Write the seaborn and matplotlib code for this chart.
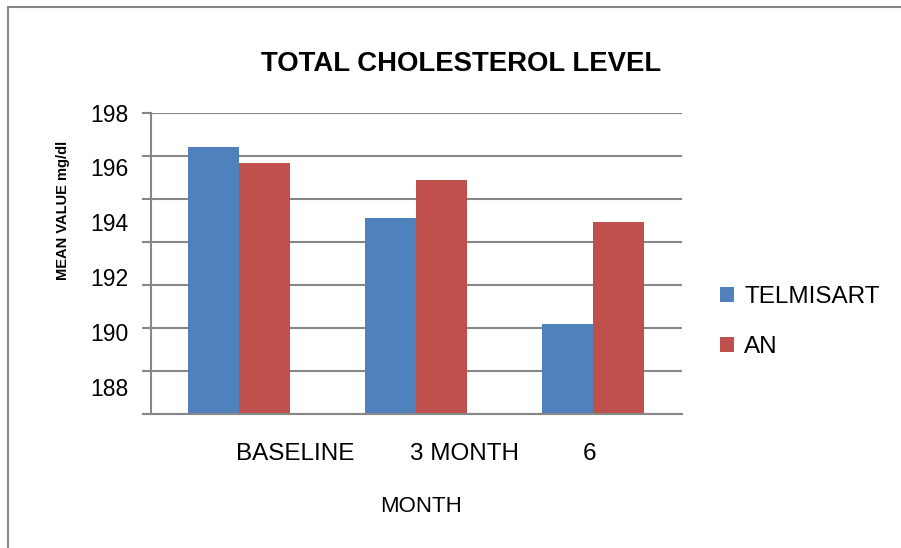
"""
Total cholesterol level by month, TELMISART vs AN (grouped bars).
"""

import matplotlib
matplotlib.use("Agg")
import matplotlib.pyplot as plt
import matplotlib.transforms as mtransforms
from matplotlib.patches import Rectangle
import seaborn as sns
import pandas as pd
import numpy as np

# data
months = ["BASELINE", "3 MONTH", "6"]
groups = ["TELMISART", "AN"]
telmisart = [196.75, 194.15, 190.3]
an = [196.15, 195.55, 194.0]
y_labels = [188, 190, 192, 194, 196, 198]

colors = ["#4F81BD", "#C0504D"]
GRID = "#878787"

sns.set_style("white")
plt.rcParams["font.family"] = ["Liberation Sans", "DejaVu Sans"]
plt.rcParams["text.color"] = "black"
plt.rcParams["axes.labelcolor"] = "black"
plt.rcParams["xtick.labelcolor"] = "black"
plt.rcParams["ytick.labelcolor"] = "black"

df = pd.DataFrame({
    "month": months * 2,
    "group": [groups[0]] * 3 + [groups[1]] * 3,
    "value": telmisart + an,
})

fig = plt.figure(figsize=(9.01, 5.48), dpi=100)
ax = fig.add_axes([150.5 / 901, 1 - 414 / 548, 531 / 901, 301.3 / 548])

sns.barplot(data=df, x="month", y="value", hue="group", palette=colors,
            width=0.573, saturation=1, linewidth=0, ax=ax)

ax.set_xlim(-0.5, 2.5)
ax.set_ylim(187, 198)

# gridlines (with outward tick marks) on an even 7-step split of the axis
ax.yaxis.remove_overlapping_locs = False
ax.set_yticks(np.linspace(187, 198, 8))
ax.set_yticks(y_labels, minor=True)
ax.set_yticklabels([str(v) for v in y_labels], minor=True)
ax.tick_params(axis="y", which="major", length=6.5, width=1.5, color=GRID,
               direction="out", labelleft=False, left=True)
ax.tick_params(axis="y", which="minor", length=0, pad=15.8, labelsize=16.5,
               labelleft=True, labelcolor="black")
ax.grid(axis="y", which="major", color=GRID, linewidth=1.5)
ax.grid(axis="x", visible=False)
ax.set_axisbelow(True)

for side in ["top", "right"]:
    ax.spines[side].set_visible(False)
for side in ["left", "bottom"]:
    ax.spines[side].set_color(GRID)
    ax.spines[side].set_linewidth(1.5)

# x tick labels sit off-centre in the original
ax.tick_params(axis="x", length=0, pad=21, labelsize=17.5, labelcolor="black")
shifts_px = [56, 48, -4]
for lab, dx in zip(ax.get_xticklabels(), shifts_px):
    off = mtransforms.ScaledTranslation(dx / 100, 0, fig.dpi_scale_trans)
    lab.set_transform(lab.get_transform() + off)

ax.set_xlabel("MONTH", fontsize=16)
ax.xaxis.label.set_va("center")
ax.xaxis.set_label_coords(0.509, -0.3077)

ax.set_ylabel("MEAN VALUE mg/dl", fontsize=10.5, fontweight="bold")
ax.yaxis.label.set_va("center")
ax.yaxis.set_label_coords(-0.165, 0.677)

fig.suptitle("TOTAL CHOLESTEROL LEVEL", x=461 / 901, y=1 - 64 / 548,
             va="center", fontsize=19.8, fontweight="bold")

handles, labels = ax.get_legend_handles_labels()
if ax.get_legend() is not None:
    ax.get_legend().remove()
ax.legend(handles, labels, loc="center left", bbox_to_anchor=(0.799, 0.4125),
          bbox_transform=fig.transFigure, frameon=False, fontsize=17.5,
          handlelength=0.6, handleheight=0.6, handletextpad=0.4,
          labelspacing=1.15, borderpad=0, borderaxespad=0, labelcolor="black")

# chart-area border (only left and top edges are inside the picture)
fig.add_artist(Rectangle((7.5 / 901, -0.1), 2, (548 - 6.5) / 548 + 0.1,
                         transform=fig.transFigure, fill=False,
                         edgecolor=GRID, linewidth=1.5, clip_on=False))

fig.savefig("out.png", dpi=100)
plt.close(fig)
